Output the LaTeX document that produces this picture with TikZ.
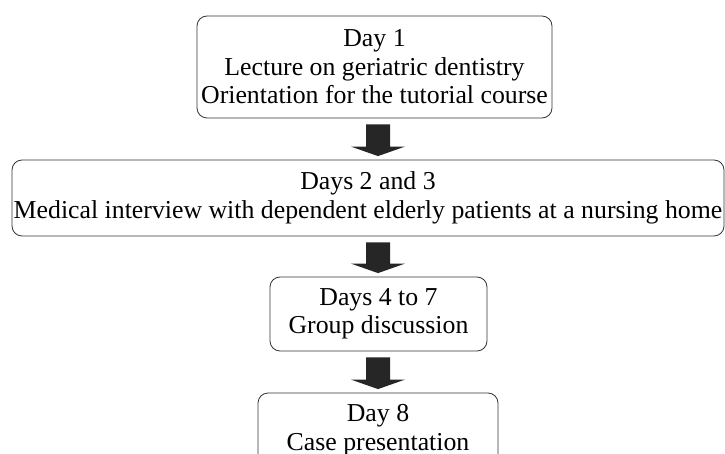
\documentclass[tikz,border=0pt]{standalone}
\usepackage{fontspec}
\setmainfont{Liberation Serif}
\usetikzlibrary{calc}

\tikzset{
    daybox/.style={draw=black!80, line width=0.8pt, rounded corners=10pt, align=center,
        inner sep=0pt, font=\fontsize{25.8}{28.5}\selectfont},
    arrowfill/.style={fill=black!85}
}

% block arrow between two boxes
\newcommand{\flowarrow}[2]{%
    \fill[arrowfill] let \p1=(#1.south), \p2=(#2.north) in
        (366,\y1-6) -- (390,\y1-6) -- (390,\y2+13) -- (405,\y2+13) -- (378,\y2+3.5)
        -- (351,\y2+13) -- (366,\y2+13) -- cycle;}

\begin{document}
\begin{tikzpicture}[x=1pt, y=1pt]
            \useasboundingbox (0,0) rectangle (725,-454);

            \node[daybox, minimum width=355pt, minimum height=102pt] (day1) at (374.5, -67) {Day 1\\Lecture on geriatric dentistry\\Orientation for the tutorial course};
            \node[daybox, minimum width=712pt, minimum height=76pt] (day23) at (368, -198) {Days 2 and 3\\Medical interview with dependent elderly patients at a nursing home};
            \node[daybox, minimum width=217pt, minimum height=74pt] (day47) at (378.5, -314) {Days 4 to 7\\Group discussion};
            \node[daybox, minimum width=240pt, minimum height=74pt] (day8) at (378, -430) {Day 8\\Case presentation};

            \flowarrow{day1}{day23}
            \flowarrow{day23}{day47}
            \flowarrow{day47}{day8}

        \end{tikzpicture}
\end{document}
